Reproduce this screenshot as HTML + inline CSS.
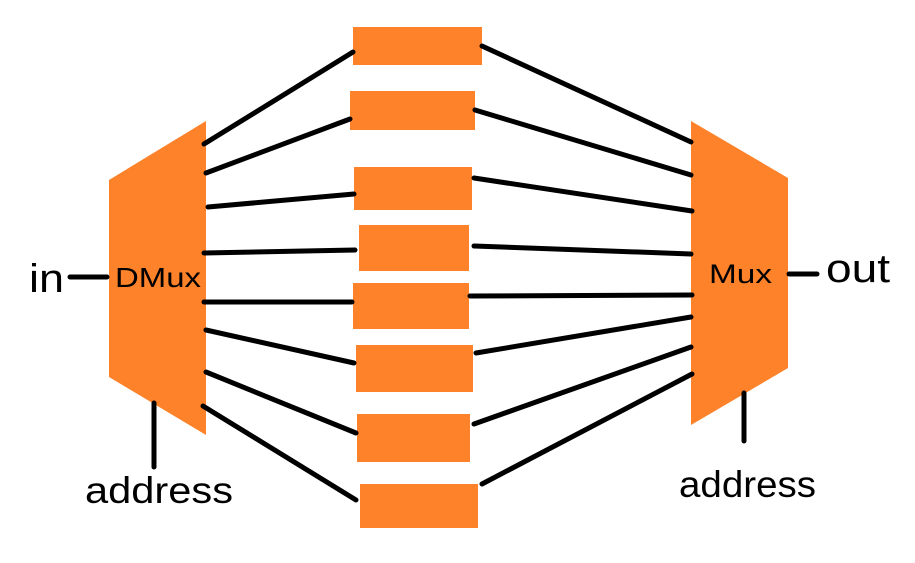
<!DOCTYPE html>
<html><head><meta charset="utf-8"><style>
html,body{margin:0;padding:0;background:#fff;}
svg{display:block;}
text{font-family:"Liberation Sans","DejaVu Sans",sans-serif;fill:#000;}
</style></head><body>
<svg width="915" height="563" viewBox="0 0 915 563" xmlns="http://www.w3.org/2000/svg">
<g fill="#fd8229">
<polygon points="109,180 206,121 206,435 109,377"/>
<polygon points="691,121 788,178 788,368 691,425"/>
<rect x="353" y="27" width="129" height="38"/>
<rect x="350" y="91" width="125" height="39"/>
<rect x="354" y="167" width="118" height="43"/>
<rect x="359" y="225" width="110" height="46"/>
<rect x="353" y="283" width="116" height="46"/>
<rect x="356" y="345" width="117" height="47"/>
<rect x="357" y="414" width="113" height="48"/>
<rect x="360" y="484" width="118" height="44"/>
</g>
<g stroke="#000" stroke-width="5" stroke-linecap="round" fill="none">
<line x1="204" y1="144" x2="353" y2="52"/>
<line x1="206" y1="173" x2="350" y2="119"/>
<line x1="208" y1="207" x2="354" y2="194"/>
<line x1="204" y1="253" x2="355" y2="250"/>
<line x1="204" y1="302" x2="352" y2="302"/>
<line x1="206" y1="330" x2="354" y2="363"/>
<line x1="206" y1="372" x2="356" y2="433"/>
<line x1="203" y1="406" x2="356" y2="500"/>
<line x1="482" y1="46" x2="691" y2="142"/>
<line x1="475" y1="110" x2="691" y2="175"/>
<line x1="474" y1="178" x2="692" y2="211"/>
<line x1="474" y1="246" x2="691" y2="254"/>
<line x1="470" y1="296" x2="692" y2="295"/>
<line x1="476" y1="353" x2="691" y2="317"/>
<line x1="474" y1="424" x2="691" y2="347"/>
<line x1="482" y1="484" x2="692" y2="374"/>
<line x1="70" y1="277" x2="107" y2="277"/>
<line x1="154" y1="403" x2="154" y2="467"/>
<line x1="789" y1="274" x2="817" y2="274"/>
<line x1="744" y1="393" x2="744" y2="441"/>
</g>
<text x="29" y="292" font-size="40" textLength="35" lengthAdjust="spacingAndGlyphs">in</text>
<text x="115" y="287" font-size="28" textLength="86" lengthAdjust="spacingAndGlyphs">DMux</text>
<text x="85" y="503" font-size="37" textLength="148" lengthAdjust="spacingAndGlyphs">address</text>
<text x="709" y="283" font-size="27" textLength="63" lengthAdjust="spacingAndGlyphs">Mux</text>
<text x="826" y="282" font-size="40" textLength="64" lengthAdjust="spacingAndGlyphs">out</text>
<text x="679" y="497" font-size="37" textLength="137" lengthAdjust="spacingAndGlyphs">address</text>
</svg>
</body></html>
